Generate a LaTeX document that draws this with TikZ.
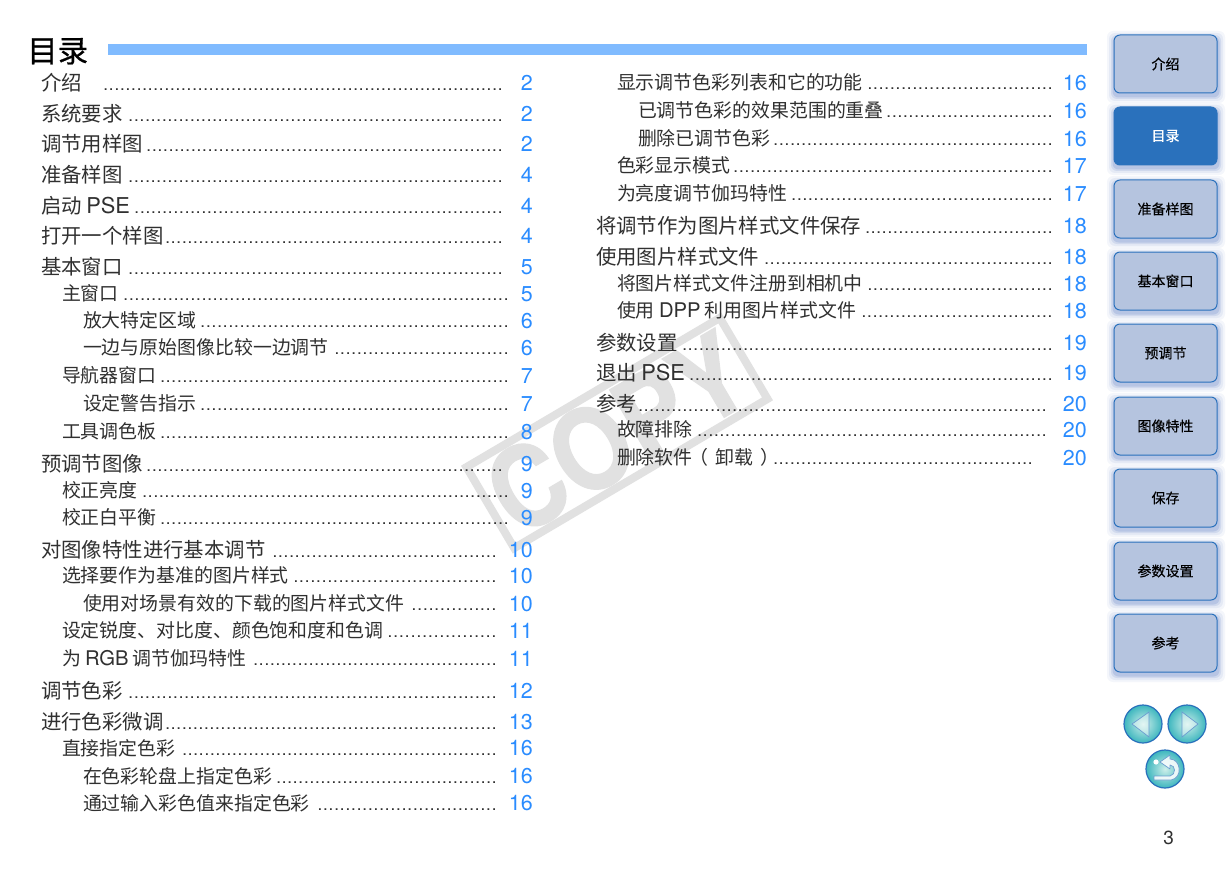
\documentclass[tikz,border=0pt]{standalone}
\usepackage{fontspec}
\usepackage{graphicx}
\setmainfont{Noto Sans CJK SC}
\newfontfamily\latf{TeX Gyre Heros}
\newfontfamily\latg[Scale=1.07]{TeX Gyre Heros}
\newfontfamily\boldcjk[FakeBold=0.6]{Noto Sans CJK SC}
\newfontfamily\tabcjk[FakeBold=0.25]{Noto Sans CJK SC}
\usetikzlibrary{shadings}
\definecolor{numblue}{HTML}{2A8CFF}
\definecolor{barblue}{HTML}{80BBFF}
\definecolor{tabfill}{HTML}{B5C4DF}
\definecolor{tabedge}{HTML}{2A71BC}
\definecolor{tabshadow}{HTML}{3A62B8}
\definecolor{wm}{HTML}{E1E1E1}
\definecolor{txt}{HTML}{303030}
\definecolor{navin}{HTML}{CDEFEA}
\definecolor{navout}{HTML}{3DB6BE}
\newcommand{\lat}[1]{{\latg #1}}
% name, x, y, dot start, dot end, size, text, number right edge, number
\newcommand{\tocline}[9]{%
  \node[tocnode,font=\fontsize{#6}{#6}\selectfont] (#1) at (#2,#3+1+#6*0.37)
    {\makebox[\dimexpr #5pt-#2pt\relax][l]{\rlap{#7}\hskip\dimexpr #4pt-#2pt\relax\xleaders\hbox to 5.52pt{\hss\fontsize{17}{17}\latf.\hss}\hfill}};
  \node[numnode] (#1n) at (#8,#3+8.6) {#9};}
\newcommand{\tabbtn}[4]{%
  \foreach \k/\o in {7/.05,5/.08,3/.12,1.5/.16}
    \fill[tabshadow,opacity=\o,rounded corners=6pt] (1114-\k,#2-\k+3) rectangle (1218+\k,#2+58+\k+3);
  \node[#4] (#1) at (1165.5,#2+29) {#3};}
\tikzset{
  tocnode/.style={anchor=base west,inner sep=0pt,outer sep=0pt,text=txt},
  numnode/.style={anchor=base east,inner sep=0pt,text=numblue,font=\latf\fontsize{21.5}{21.5}\selectfont},
  tabnormal/.style={draw=tabedge,line width=1pt,fill=tabfill,rounded corners=6pt,minimum width=103pt,minimum height=58pt,inner sep=0pt,text=black,font=\tabcjk\fontsize{14}{14}\selectfont},
  tabactive/.style={tabnormal,fill=tabedge,text=white},
  navbtn/.style={circle,minimum size=38pt,inner sep=0pt,draw=tabedge,line width=1.2pt,inner color=navin,outer color=navout},
  navicon/.style={draw=tabedge!70,line width=.7pt,fill=white,fill opacity=.45,line join=miter},
}
\begin{document}
\begin{tikzpicture}[x=1pt,y=-1pt]
\useasboundingbox (0,0) rectangle (1228,869);
\fill[white] (0,0) rectangle (1228,869);
% watermark
\begin{scope}[shift={(617,433)},rotate=30.5]
  \draw[wm,line width=8pt] (-147,-47) rectangle (147,47);
  \node[wm,rotate=30.5,inner sep=0pt] (copymark) at (0,0)
    {\scalebox{.88}[1]{\latf\bfseries\addfontfeatures{FakeBold=1.2}\fontsize{112}{112}\selectfont COPY}};
\end{scope}
% title
\node[anchor=base west,inner sep=0pt,text=black,font=\boldcjk\fontsize{30.5}{30.5}\selectfont] (title) at (27,62) {目录};
\fill[barblue] (108,44) rectangle (1087,55);
% left column
\def\sa{20.4}\def\sb{18.9}
\tocline{a1}{41}{82}{103}{503}{\sa}{介绍}{533}{2}
\tocline{a2}{41}{113}{128}{503}{\sa}{系统要求}{533}{2}
\tocline{a3}{41}{143}{146}{503}{\sa}{调节用样图}{533}{2}
\tocline{a4}{41}{174}{128}{503}{\sa}{准备样图}{533}{4}
\tocline{a5}{41}{205}{134}{503}{\sa}{启动 \lat{PSE}}{533}{4}
\tocline{a6}{41}{235}{165}{503}{\sa}{打开一个样图}{533}{4}
\tocline{a7}{41}{266}{128}{503}{\sa}{基本窗口}{533}{5}
\tocline{a8}{62}{293}{123}{509}{\sb}{主窗口}{533}{5}
\tocline{a9}{83}{320}{200}{509}{\sb}{放大特定区域}{533}{6}
\tocline{a10}{83}{347}{334}{509}{\sb}{一边与原始图像比较一边调节}{533}{6}
\tocline{a11}{62}{375}{160}{509}{\sb}{导航器窗口}{533}{7}
\tocline{a12}{83}{403}{200}{509}{\sb}{设定警告指示}{533}{7}
\tocline{a13}{62}{431}{160}{509}{\sb}{工具调色板}{533}{8}
\tocline{a14}{41}{463}{146}{503}{\sa}{预调节图像}{533}{9}
\tocline{a15}{62}{490}{142}{509}{\sb}{校正亮度}{533}{9}
\tocline{a16}{62}{517}{160}{509}{\sb}{校正白平衡}{533}{9}
\tocline{a17}{41}{549}{272}{497}{\sa}{对图像特性进行基本调节}{533}{10}
\tocline{a18}{62}{575}{293}{497}{\sb}{选择要作为基准的图片样式}{533}{10}
\tocline{a19}{83}{603}{411}{497}{\sb}{使用对场景有效的下载的图片样式文件}{533}{10}
\tocline{a20}{62}{630}{387}{497}{\sb}{设定锐度、对比度、颜色饱和度和色调}{533}{11}
\tocline{a21}{62}{658}{253}{497}{\sb}{为 \lat{RGB} 调节伽玛特性}{533}{11}
\tocline{a22}{41}{690}{128}{497}{\sa}{调节色彩}{533}{12}
\tocline{a23}{41}{721}{165}{497}{\sa}{进行色彩微调}{533}{13}
\tocline{a24}{62}{747}{182}{497}{\sb}{直接指定色彩}{533}{16}
\tocline{a25}{83}{775}{276}{497}{\sb}{在色彩轮盘上指定色彩}{533}{16}
\tocline{a26}{83}{802}{317}{497}{\sb}{通过输入彩色值来指定色彩}{533}{16}
% right column
\tocline{b1}{617}{82}{867}{1053}{\sb}{显示调节色彩列表和它的功能}{1087}{16}
\tocline{b2}{638}{110}{886}{1053}{\sb}{已调节色彩的效果范围的重叠}{1087}{16}
\tocline{b3}{638}{138}{773}{1053}{\sb}{删除已调节色彩}{1087}{16}
\tocline{b4}{617}{165}{733}{1053}{\sb}{色彩显示模式}{1087}{17}
\tocline{b5}{617}{193}{791}{1053}{\sb}{为亮度调节伽玛特性}{1087}{17}
\tocline{b6}{596}{225}{865}{1053}{\sa}{将调节作为图片样式文件保存}{1087}{18}
\tocline{b7}{596}{256}{764}{1053}{\sa}{使用图片样式文件}{1087}{18}
\tocline{b8}{617}{283}{867}{1053}{\sb}{将图片样式文件注册到相机中}{1087}{18}
\tocline{b9}{617}{310}{861}{1053}{\sb}{使用 \lat{DPP} 利用图片样式文件}{1087}{18}
\tocline{b10}{596}{342}{682}{1053}{\sa}{参数设置}{1087}{19}
\tocline{b11}{596}{372}{689}{1053}{\sa}{退出 \lat{PSE}}{1087}{19}
\tocline{b12}{596}{403}{638}{1047}{\sa}{参考}{1087}{20}
\tocline{b13}{617}{429}{697}{1047}{\sb}{故障排除}{1087}{20}
\tocline{b14}{617}{457}{773}{1033}{\sb}{删除软件\hskip -3pt（\hskip 7pt卸载\hskip 7pt）}{1087}{20}
% tabs
\tabbtn{t1}{35}{介绍}{tabnormal}
\tabbtn{t2}{107}{目录}{tabactive}
\tabbtn{t3}{180}{准备样图}{tabnormal}
\tabbtn{t4}{252}{基本窗口}{tabnormal}
\tabbtn{t5}{324}{预调节}{tabnormal}
\tabbtn{t6}{397}{图像特性}{tabnormal}
\tabbtn{t7}{469}{保存}{tabnormal}
\tabbtn{t8}{542}{参数设置}{tabnormal}
\tabbtn{t9}{614}{参考}{tabnormal}
% nav buttons
\node[navbtn] (prev) at (1143,724) {};
\node[navbtn] (next) at (1187,724) {};
\node[navbtn] (back) at (1165,769) {};
\draw[navicon] (1132,724) -- (1149,712) -- (1149,737) -- cycle;
\draw[navicon] (1198,724) -- (1182,712) -- (1182,737) -- cycle;
\fill[white] (1156,762) circle (2.6);
\draw[navicon,fill opacity=.85,line join=round] (1160,762) -- (1170,755) -- (1170,759) .. controls (1181,759) and (1183,778) .. (1171,780) -- (1154,780) -- (1154,776) -- (1170,776) .. controls (1176,775) and (1176,765) .. (1170,765) -- (1170,769) -- cycle;
% page number
\node[anchor=base east,inner sep=0pt,text=txt,font=\latf\fontsize{19}{19}\selectfont] (pageno) at (1174,844) {3};
\end{tikzpicture}
\end{document}
